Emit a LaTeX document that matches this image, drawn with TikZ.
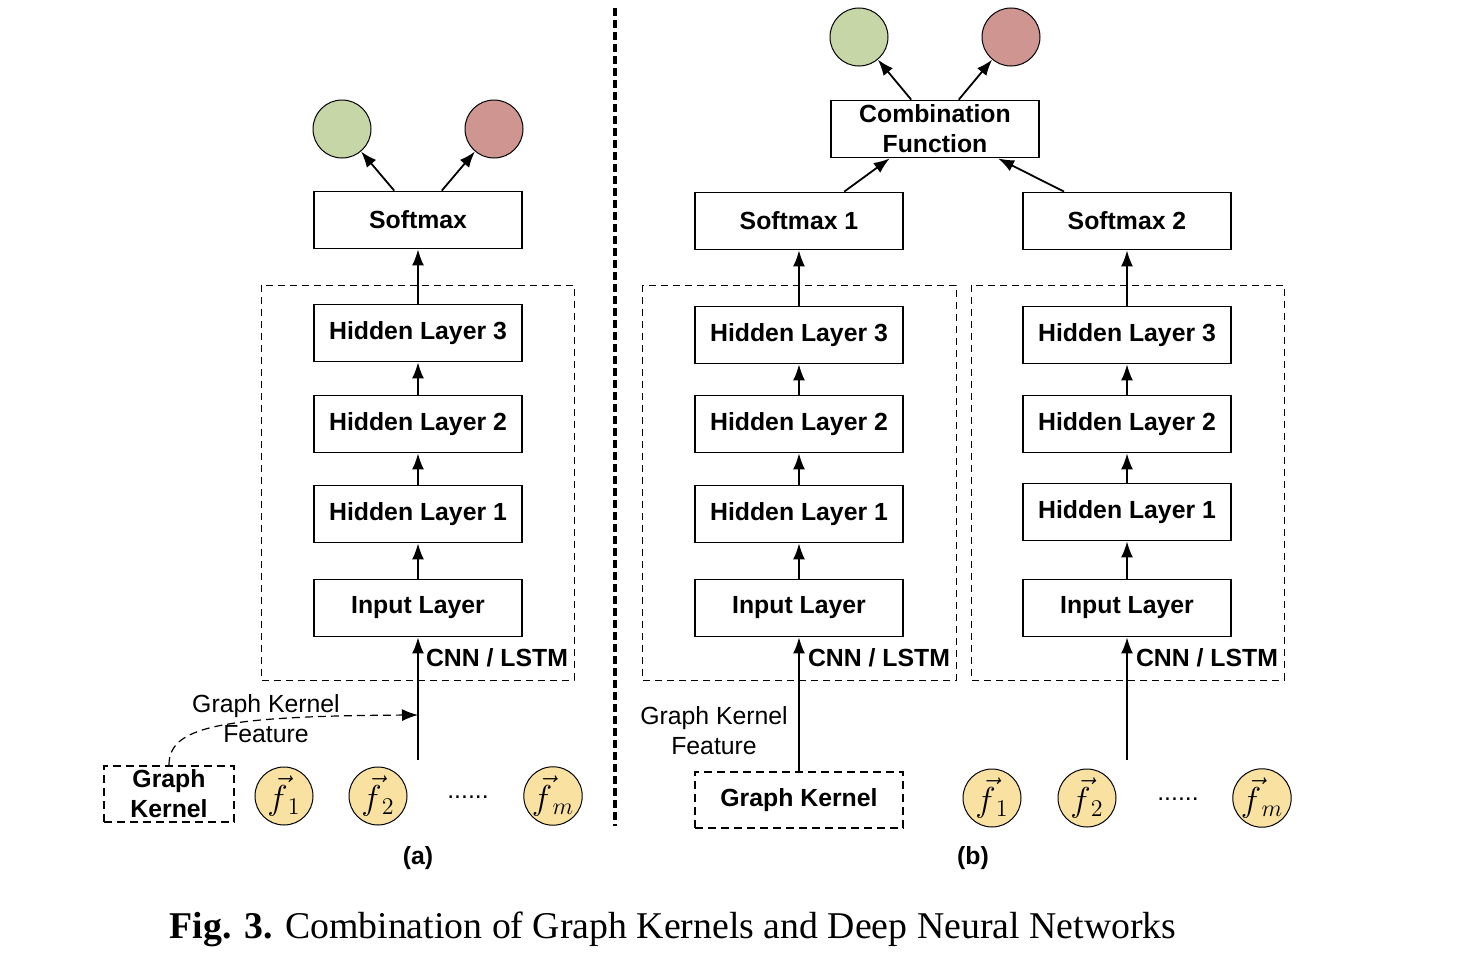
\documentclass[tikz,border=0pt]{standalone}
\usepackage{fontspec}
\setmainfont{Liberation Serif}
\setsansfont{Liberation Sans}
\usetikzlibrary{arrows.meta}
\definecolor{outgreen}{RGB}{198,214,166}
\definecolor{outred}{RGB}{206,149,145}
\definecolor{featyellow}{RGB}{249,225,162}
\tikzset{
  layerbox/.style={draw, line width=0.9pt, minimum width=104pt, minimum height=28.5pt, inner sep=1pt,
    font=\sffamily\bfseries\fontsize{12.4}{15}\selectfont, align=center},
  kernelbox/.style={draw, line width=0.9pt, dash pattern=on 4pt off 2.5pt, minimum height=28pt, inner sep=1pt,
    font=\sffamily\bfseries\fontsize{12.4}{15}\selectfont, align=center},
  outcircle/.style={circle, draw, line width=0.5pt, minimum size=29pt, inner sep=0pt},
  featcircle/.style={circle, draw, line width=0.5pt, fill=featyellow, minimum size=29pt, inner sep=0pt,
    font=\fontsize{17}{17}\selectfont},
  plainlabel/.style={font=\sffamily\fontsize{12.4}{15}\selectfont, align=center},
  boldlabel/.style={font=\sffamily\bfseries\fontsize{12.4}{15}\selectfont},
  flow/.style={->, line width=0.9pt},
  group/.style={line width=0.5pt, dash pattern=on 3.5pt off 2.5pt},
}
\begin{document}
\begin{tikzpicture}[x=0.5pt, y=-0.5pt, >={Latex[length=8pt,width=6pt]}]
    \useasboundingbox (0,0) rectangle (1474,958);

    % (a) single network
    \draw[group] (261,285) rectangle (574,680);
    \node[outcircle, fill=outgreen] (gA) at (342,129) {};
    \node[outcircle, fill=outred] (rA) at (494,129) {};
    \node[layerbox] (smA) at (418,220) {Softmax};
    \node[layerbox] (hA3) at (418,333) {Hidden Layer 3};
    \node[layerbox] (hA2) at (418,424) {Hidden Layer 2};
    \node[layerbox] (hA1) at (418,514) {Hidden Layer 1};
    \node[layerbox] (inA) at (418,608) {Input Layer};
    \node[boldlabel, anchor=west] (cnnA) at (419,658) {CNN / LSTM};
    \node[kernelbox, minimum width=65pt] (gkA) at (169,794) {Graph\\Kernel};
    \node[plainlabel] (gkfA) at (266,719) {Graph Kernel\\Feature};
    \node[featcircle] (fA1) at (284,796) {$\vec{f}_{\,1}$};
    \node[featcircle] (fA2) at (378,796) {$\vec{f}_{\,2}$};
    \node[plainlabel] (dotsA) at (468,797) {......};
    \node[featcircle] (fAm) at (553,796) {$\vec{f}_{\,m}$};
    \coordinate (srcA) at (418,760);
    \coordinate (joinA) at (418,715);
    \node[boldlabel] (capA) at (418,858) {(a)};

    \draw[flow] (smA.129) -- (gA);
    \draw[flow] (smA.51) -- (rA);
    \draw[flow] (hA3) -- (smA);
    \draw[flow] (hA2) -- (hA3);
    \draw[flow] (hA1) -- (hA2);
    \draw[flow] (inA) -- (hA1);
    \draw[flow] (srcA) -- (inA);
    \draw[->, line width=0.6pt, dash pattern=on 4pt off 2.5pt] (gkA.north) .. controls (169,728) and (215,716) .. (joinA);

    % divider
    \draw[line width=1.6pt, dash pattern=on 4pt off 2pt] (615,8) -- (615,826);

    % (b) two networks
    \draw[group] (642,285) rectangle (956,680);
    \draw[group] (971,285) rectangle (1284,680);
    \node[outcircle, fill=outgreen] (gB) at (859,37) {};
    \node[outcircle, fill=outred] (rB) at (1011,37) {};
    \node[layerbox] (comb) at (935,129) {Combination\\Function};
    \node[layerbox] (smB1) at (799,221) {Softmax 1};
    \node[layerbox] (smB2) at (1127,221) {Softmax 2};
    \node[layerbox] (hB13) at (799,335) {Hidden Layer 3};
    \node[layerbox] (hB12) at (799,424) {Hidden Layer 2};
    \node[layerbox] (hB11) at (799,514) {Hidden Layer 1};
    \node[layerbox] (inB1) at (799,608) {Input Layer};
    \node[layerbox] (hB23) at (1127,335) {Hidden Layer 3};
    \node[layerbox] (hB22) at (1127,424) {Hidden Layer 2};
    \node[layerbox] (hB21) at (1127,512) {Hidden Layer 1};
    \node[layerbox] (inB2) at (1127,608) {Input Layer};
    \node[boldlabel, anchor=west] (cnnB1) at (801,658) {CNN / LSTM};
    \node[boldlabel, anchor=west] (cnnB2) at (1129,658) {CNN / LSTM};
    \node[plainlabel] (gkfB) at (714,731) {Graph Kernel\\Feature};
    \node[kernelbox, minimum width=104pt] (gkB) at (799,800) {Graph Kernel};
    \node[featcircle] (fB1) at (992,798) {$\vec{f}_{\,1}$};
    \node[featcircle] (fB2) at (1087,798) {$\vec{f}_{\,2}$};
    \node[plainlabel] (dotsB) at (1178,799) {......};
    \node[featcircle] (fBm) at (1262,798) {$\vec{f}_{\,m}$};
    \coordinate (srcB) at (1127,760);
    \node[boldlabel] (capB) at (973,858) {(b)};

    \draw[flow] (comb.129) -- (gB);
    \draw[flow] (comb.51) -- (rB);
    \draw[flow] (smB1.33) -- (comb.213);
    \draw[flow] (smB2.155) -- (comb.335);
    \draw[flow] (hB13) -- (smB1);
    \draw[flow] (hB12) -- (hB13);
    \draw[flow] (hB11) -- (hB12);
    \draw[flow] (inB1) -- (hB11);
    \draw[flow] (gkB) -- (inB1);
    \draw[flow] (hB23) -- (smB2);
    \draw[flow] (hB22) -- (hB23);
    \draw[flow] (hB21) -- (hB22);
    \draw[flow] (inB2) -- (hB21);
    \draw[flow] (srcB) -- (inB2);

    \node[font=\fontsize{18.9}{21}\selectfont] (fig) at (673,929) {\textbf{Fig. 3.} Combination of Graph Kernels and Deep Neural Networks};
\end{tikzpicture}
\end{document}
